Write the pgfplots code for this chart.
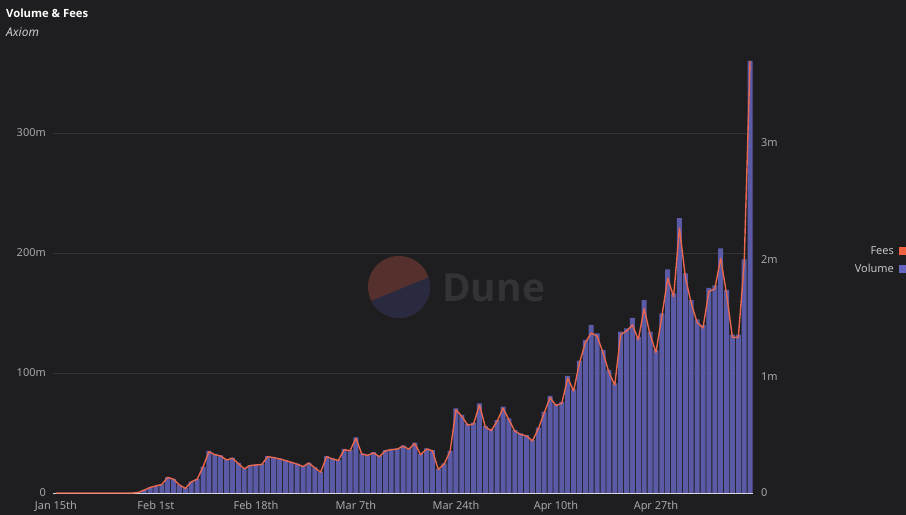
\documentclass[border=0pt]{standalone}
\usepackage{pgfplots}
\pgfplotsset{compat=1.18}
\usepackage{pgfplotstable}
\usepackage{fontspec}
\setmainfont{Noto Sans}
\newfontfamily\titlefont{Open Sans}
\definecolor{bg}{HTML}{1E1E20}
\definecolor{barc}{HTML}{5A5AA6}
\definecolor{feec}{HTML}{E8674F}
\definecolor{tickc}{HTML}{A6A6AC}
\definecolor{legc}{HTML}{C4C4C8}
\definecolor{gridc}{HTML}{343437}
\definecolor{basec}{HTML}{D8D8DC}
\definecolor{wmred}{HTML}{56302D}
\definecolor{wmblue}{HTML}{29293F}
\definecolor{wmtext}{HTML}{333335}
\definecolor{legfee}{HTML}{F0623F}
\definecolor{legvol}{HTML}{6464C0}

\pgfplotstableread{
day vol fee
0 0 0
1 0 0
2 0 0
3 0 0
4 0 0
5 0 0
6 0 0
7 0 0
8 0 0
9 0 0
10 0 0
11 0 0
12 0 0
13 0 0
14 0.5 0.005
15 2.5 0.025
16 4.7 0.047
17 6 0.061
18 7.2 0.073
19 13.3 0.134
20 11.7 0.118
21 6.7 0.068
22 4 0.040
23 9.4 0.095
24 11.7 0.118
25 22 0.222
26 35 0.354
27 32.5 0.328
28 31.4 0.317
29 28 0.283
30 29.4 0.297
31 25 0.253
32 20.5 0.207
33 23.3 0.235
34 23.8 0.240
35 24.2 0.244
36 30.8 0.311
37 30 0.303
38 28.9 0.292
39 27.5 0.278
40 26 0.263
41 24.5 0.247
42 22.5 0.227
43 25.3 0.256
44 21.4 0.216
45 17.5 0.177
46 30.8 0.311
47 28.9 0.292
48 27.5 0.278
49 36.7 0.371
50 35.8 0.362
51 46.4 0.469
52 33 0.333
53 32 0.323
54 34 0.343
55 30.8 0.311
56 35.8 0.362
57 36.7 0.371
58 37.2 0.376
59 39.7 0.401
60 37.2 0.376
61 42 0.424
62 32.5 0.328
63 37.2 0.376
64 35.8 0.362
65 20 0.202
66 24.7 0.249
67 35 0.354
68 70.5 0.712
69 65 0.657
70 57.5 0.581
71 58.6 0.592
72 74.7 0.754
73 55.8 0.564
74 53 0.535
75 60.8 0.614
76 71.9 0.726
77 62.2 0.628
78 52.5 0.530
79 49.7 0.502
80 48.3 0.488
81 44.2 0.446
82 54.4 0.549
83 67.8 0.685
84 81 0.818
85 74.2 0.749
86 76 0.768
87 97.5 0.985
88 86.4 0.873
89 110.3 1.114
90 127.5 1.288
91 140 1.370
92 133 1.343
93 119 1.202
94 102.5 1.035
95 91.4 0.923
96 134.4 1.357
97 137.2 1.386
98 146 1.440
99 130 1.313
100 160.8 1.580
101 134.4 1.357
102 119.2 1.204
103 149.7 1.512
104 186.4 1.840
105 166.4 1.681
106 229 2.270
107 183 1.848
108 160.8 1.624
109 144.7 1.461
110 140 1.414
111 171 1.727
112 173 1.747
113 203.9 2.010
114 169 1.707
115 132 1.333
116 132 1.333
117 194.7 1.966
118 360 3.700
}\data

\begin{document}
\begin{tikzpicture}
\fill[bg] (0bp,0bp) rectangle (906bp,515bp);
\path[use as bounding box] (0bp,0bp) rectangle (906bp,515bp);
% watermark
\begin{scope}
\clip (399bp,228bp) circle (31bp);
\fill[wmred] (366bp,195bp) rectangle (432bp,261bp);
\fill[wmblue] (366bp,212bp) -- (432bp,239bp) -- (432bp,195bp) -- (366bp,195bp) -- cycle;
\end{scope}
\node[anchor=west, inner sep=0, font=\titlefont\bfseries\fontsize{39}{40}\selectfont, text=wmtext] at (442bp,227bp) {Dune};
% titles
\node[anchor=base west, inner sep=0, font=\titlefont\bfseries\fontsize{11.3}{14}\selectfont, text=white] at (6bp,497bp) {Volume \& Fees};
\node[anchor=base west, inner sep=0, font=\itshape\fontsize{12}{14}\selectfont, text=legc!90!white] at (6bp,478.5bp) {Axiom};
% legend
\fill[legfee] (899bp,260bp) rectangle (907bp,268bp);
\node[anchor=base east, inner sep=0, font=\fontsize{11}{13}\selectfont, text=legc] at (894bp,260bp) {Fees};
\fill[legvol] (899bp,242bp) rectangle (907bp,250bp);
\node[anchor=base east, inner sep=0, font=\fontsize{11}{13}\selectfont, text=legc] at (894bp,242.3bp) {Volume};

\begin{axis}[
  at={(53bp,22bp)}, anchor=south west, scale only axis,
  width=700bp, height=432bp,
  xmin=-0.5, xmax=118.5, ymin=0, ymax=360,
  clip=false,
  axis line style={draw=none},
  major tick length=0pt,
  xtick={0,17,34,51,68,85,102},
  xticklabels={Jan 15th,Feb 1st,Feb 18th,Mar 7th,Mar 24th,Apr 10th,Apr 27th},
  ytick={0,100,200,300},
  yticklabels={0,100m,200m,300m},
  ymajorgrids, grid style={gridc, line width=0.6bp},
  ticklabel style={font=\fontsize{11}{13}\selectfont, text=tickc, inner sep=0pt},
  yticklabel style={xshift=-7bp},
  xticklabel style={yshift=-8bp},
  ybar, bar width=5bp,
]
\addplot[fill=barc, draw=none, bar shift=0pt] table[x=day, y=vol]{\data};
\draw[basec, line width=0.9bp] (axis cs:-0.5,0) -- (axis cs:118.5,0);
\end{axis}

\begin{axis}[
  at={(53bp,22bp)}, anchor=south west, scale only axis,
  width=700bp, height=432bp,
  xmin=-0.5, xmax=118.5, ymin=0, ymax=3.7,
  clip=false,
  axis y line*=right, hide x axis,
  axis line style={draw=none},
  major tick length=0pt,
  ytick={0,1,2,3},
  yticklabels={0,1m,2m,3m},
  ticklabel style={font=\fontsize{11}{13}\selectfont, text=tickc, inner sep=0pt},
  yticklabel style={xshift=8bp},
]
\addplot[feec, line width=1.4bp, line join=round, no markers] table[x=day, y=fee]{\data};
\end{axis}
\end{tikzpicture}
\end{document}
